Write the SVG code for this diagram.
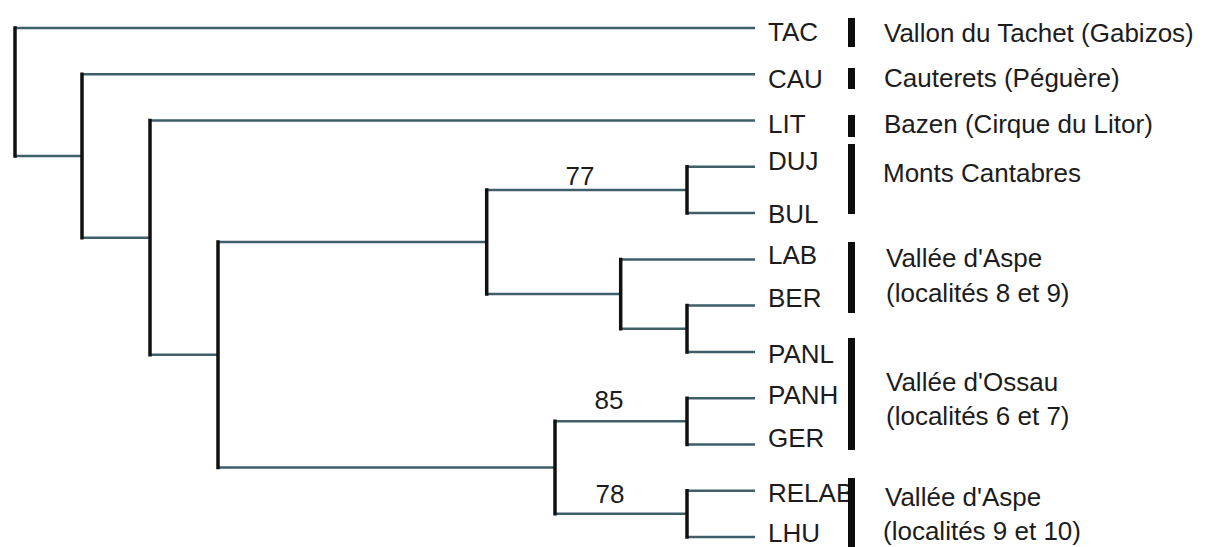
<svg xmlns="http://www.w3.org/2000/svg" width="1205" height="547" viewBox="0 0 1205 547">
<style>
.h{stroke:#3e5e69;stroke-width:2.5;fill:none}
.v{stroke:#111;stroke-width:3.5;fill:none;stroke-linecap:square}
text{font-family:"Liberation Sans",Arial,sans-serif;font-size:26px;fill:#1c1c1c}
.bs{text-anchor:middle}
.bar{fill:#0d0d0d}
</style>
<rect width="1205" height="547" fill="#fff"/>
<g id="connectors">
<path class="h" d="M15 28H755M15 156H82M82 74.3H755M82 237.7H150M150 120.5H755M150 354.8H218M218 242H486.7M218 467.6H555M486.7 190H687M486.7 294.1H620.7M687 166.8H755M687 213.1H755M620.7 259.4H755M620.7 328.75H687M687 305.6H755M687 351.9H755M555 421.3H687M555 513.85H687M687 398.2H755M687 444.4H755M687 490.7H755M687 537H755"/>
<path class="v" d="M15 28V156M82 74.3V237.7M150 120.5V354.8M218 242V467.6M486.7 190V294.1M620.7 259.4V328.75M687 166.8V213.1M687 305.6V351.9M687 398.2V444.4M687 490.7V537M555 421.3V513.85"/>
</g>
<g id="support">
<text id="bs77" class="bs" x="580" y="185">77</text>
<text id="bs85" class="bs" x="609" y="409">85</text>
<text id="bs78" class="bs" x="610" y="503">78</text>
</g>
<g id="leaf-TAC"><text x="768" y="40.7">TAC</text></g>
<g id="leaf-CAU"><text x="768" y="88.3">CAU</text></g>
<g id="leaf-LIT"><text x="768" y="133.3">LIT</text></g>
<g id="leaf-DUJ"><text x="768" y="170">DUJ</text></g>
<g id="leaf-BUL"><text x="768" y="223">BUL</text></g>
<g id="leaf-LAB"><text x="768" y="264">LAB</text></g>
<g id="leaf-BER"><text x="768" y="307.3">BER</text></g>
<g id="leaf-PANL"><text x="768" y="363">PANL</text></g>
<g id="leaf-PANH"><text x="768" y="404">PANH</text></g>
<g id="leaf-GER"><text x="768" y="446.7">GER</text></g>
<g id="leaf-RELAB"><text x="768" y="501.7">RELAB</text></g>
<g id="leaf-LHU"><text x="768" y="541.7">LHU</text></g>
<g id="group-tachet"><rect class="bar" x="848" y="18" width="7" height="29"/><text x="884" y="41.7">Vallon du Tachet (Gabizos)</text></g>
<g id="group-cauterets"><rect class="bar" x="848" y="68" width="7" height="21"/><text x="884" y="87.3">Cauterets (Péguère)</text></g>
<g id="group-bazen"><rect class="bar" x="848" y="115" width="7" height="22"/><text x="884" y="133.3">Bazen (Cirque du Litor)</text></g>
<g id="group-cantabres"><rect class="bar" x="848" y="144" width="7" height="70"/><text x="883" y="181.7">Monts Cantabres</text></g>
<g id="group-aspe1"><rect class="bar" x="848" y="242" width="7" height="71"/><text x="886" y="267.3">Vallée d'Aspe</text><text x="886" y="301.7">(localités 8 et 9)</text></g>
<g id="group-ossau"><rect class="bar" x="848" y="338" width="7" height="112"/><text x="886" y="390.7">Vallée d'Ossau</text><text x="886" y="425">(localités 6 et 7)</text></g>
<g id="group-aspe2"><rect class="bar" x="848" y="478" width="7" height="69"/><text x="885" y="506">Vallée d'Aspe</text><text x="883" y="540">(localités 9 et 10)</text></g>
</svg>
